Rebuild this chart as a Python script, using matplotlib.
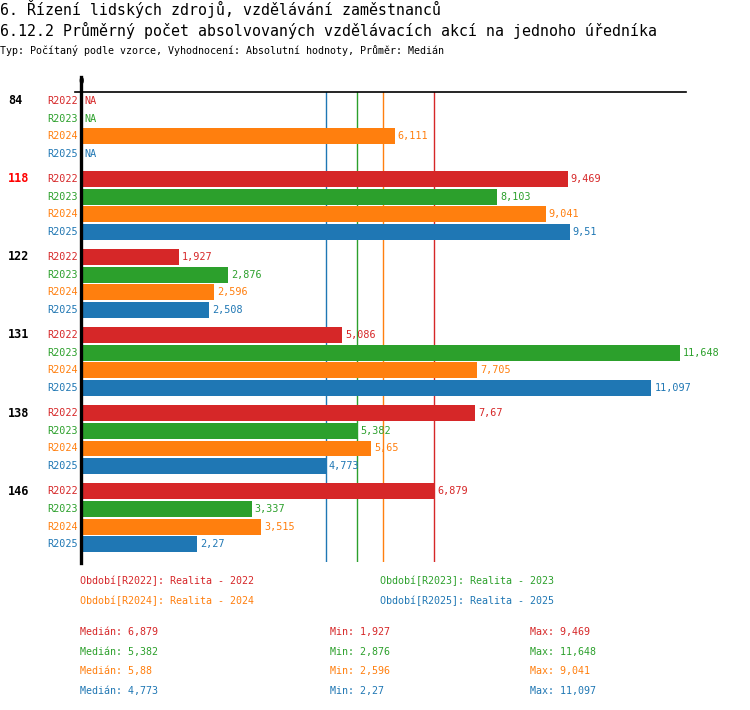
import matplotlib
matplotlib.use("Agg")
import matplotlib.pyplot as plt
import matplotlib.transforms as mtransforms
from matplotlib.lines import Line2D
import numpy as np

plt.rcParams['font.family'] = ['DejaVu Sans Mono']

# ---- data ----
categories = ["84", "118", "122", "131", "138", "146"]
highlight = "118"
series = ["R2022", "R2023", "R2024", "R2025"]
series_names = ["Realita - 2022", "Realita - 2023", "Realita - 2024", "Realita - 2025"]
colors = ["#d62728", "#2ca02c", "#ff7f0e", "#1f77b4"]
v2022 = [None, 9.469, 1.927, 5.086, 7.67, 6.879]
v2023 = [None, 8.103, 2.876, 11.648, 5.382, 3.337]
v2024 = [6.111, 9.041, 2.596, 7.705, 5.65, 3.515]
v2025 = [None, 9.51, 2.508, 11.097, 4.773, 2.27]
values = [v2022, v2023, v2024, v2025]

title1 = "6. Řízení lidských zdrojů, vzdělávání zaměstnanců"
title2 = "6.12.2 Průměrný počet absolvovaných vzdělávacích akcí na jednoho úředníka"
subtitle = "Typ: Počítaný podle vzorce, Vyhodnocení: Absolutní hodnoty, Průměr: Medián"


def fmt(v):
    s = ("%.3f" % v).rstrip("0").rstrip(".")
    return s.replace(".", ",")


W, H = 750, 710
fig = plt.figure(figsize=(W / 100, H / 100), dpi=100)

def fx(p):
    return p / W

def fy(p):
    return 1 - p / H

ax_left, ax_right, ax_top, ax_bottom = 80, 686, 92, 562
ax = fig.add_axes([fx(ax_left), fy(ax_bottom), (ax_right - ax_left) / W, (ax_bottom - ax_top) / H])
px_per_unit = 51.5
ax.set_xlim(0, (ax_right - ax_left) / px_per_unit)
group_pitch = 4.4
ax.set_ylim(26.0, -0.5)

for s in ax.spines.values():
    s.set_visible(False)
ax.set_xticks([])
ax.set_yticks([])

# axis lines (top line extends a bit left, zero line extends a bit up)
fig.add_artist(Line2D([fx(75), fx(686)], [fy(92), fy(92)], color="black", lw=1.2))
fig.add_artist(Line2D([fx(81), fx(81)], [fy(77), fy(563)], color="black", lw=2.4))

trans_lbl = mtransforms.blended_transform_factory(ax.transAxes, ax.transData)
tick_fs = 7.3

def axfrac(p):
    return (p - ax_left) / (ax_right - ax_left)

for ci, cat in enumerate(categories):
    base = ci * group_pitch
    is_h = cat == highlight
    ax.text(axfrac(8), base, cat, transform=trans_lbl, clip_on=False,
            ha="left", va="center", fontsize=8.5, fontweight="bold",
            color="#ff0000" if is_h else "black")
    for si, sname in enumerate(series):
        y = base + si
        ax.text(axfrac(78), y, sname, transform=trans_lbl, clip_on=False,
                ha="right", va="center", fontsize=tick_fs, color=colors[si])
        v = values[si][ci]
        if v is None:
            ax.annotate("NA", (0, y), xytext=(4, 0), textcoords="offset pixels",
                        ha="left", va="center", fontsize=tick_fs, color=colors[si])
        else:
            ax.barh(y, v, height=0.9, color=colors[si], zorder=3)
            ax.annotate(fmt(v), (v, y), xytext=(3, 0), textcoords="offset pixels",
                        ha="left", va="center", fontsize=tick_fs, color=colors[si],
                        annotation_clip=False)

# median lines
medians = []
for si in range(4):
    vals = [v for v in values[si] if v is not None]
    medians.append(float(np.median(vals)))
for si in range(4):
    ax.axvline(medians[si], color=colors[si], lw=1, zorder=2)

# zero tick label
fig.text(fx(81), fy(81), "0", ha="center", va="center", fontsize=6.5, color="black")

# titles
fig.text(fx(0), fy(9), title1, ha="left", va="center", fontsize=10.7)
fig.text(fx(0), fy(30), title2, ha="left", va="center", fontsize=10.7)
fig.text(fx(0), fy(50), subtitle, ha="left", va="center", fontsize=7.2)

# legend
leg_pos = [(80, 581), (380, 581), (80, 601), (380, 601)]
for si in range(4):
    x, y = leg_pos[si]
    fig.text(fx(x), fy(y), "Období[%s]: %s" % (series[si], series_names[si]),
             ha="left", va="center", fontsize=7.2, color=colors[si])

# stats
for si in range(4):
    vals = [v for v in values[si] if v is not None]
    y = 632 + si * 19.7
    fig.text(fx(80), fy(y), "Medián: " + fmt(medians[si]), ha="left", va="center",
             fontsize=7.2, color=colors[si])
    fig.text(fx(330), fy(y), "Min: " + fmt(min(vals)), ha="left", va="center",
             fontsize=7.2, color=colors[si])
    fig.text(fx(530), fy(y), "Max: " + fmt(max(vals)), ha="left", va="center",
             fontsize=7.2, color=colors[si])

fig.savefig("out.png", dpi=100)
